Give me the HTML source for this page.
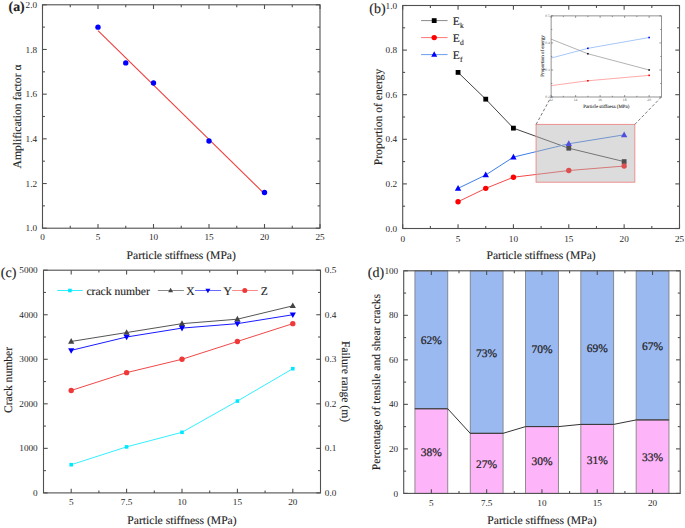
<!DOCTYPE html>
<html><head><meta charset="utf-8"><style>
html,body{margin:0;padding:0;background:#fff;}
body{width:685px;height:528px;overflow:hidden;}
svg{display:block;font-family:"Liberation Serif", serif;}
text{text-rendering:geometricPrecision;stroke:#222;stroke-width:0.12px;}
</style></head><body>
<svg width="685" height="528" viewBox="0 0 685 528">
<rect width="685" height="528" fill="#fff"/>
<rect x="42.50" y="4.80" width="277.50" height="223.40" fill="none" stroke="#505050" stroke-width="1.1"/>
<line x1="42.50" y1="228.20" x2="42.50" y2="224.00" stroke="#505050" stroke-width="1.1" />
<line x1="42.50" y1="4.80" x2="42.50" y2="9.00" stroke="#505050" stroke-width="1.1" />
<line x1="98.00" y1="228.20" x2="98.00" y2="224.00" stroke="#505050" stroke-width="1.1" />
<line x1="98.00" y1="4.80" x2="98.00" y2="9.00" stroke="#505050" stroke-width="1.1" />
<line x1="153.50" y1="228.20" x2="153.50" y2="224.00" stroke="#505050" stroke-width="1.1" />
<line x1="153.50" y1="4.80" x2="153.50" y2="9.00" stroke="#505050" stroke-width="1.1" />
<line x1="209.00" y1="228.20" x2="209.00" y2="224.00" stroke="#505050" stroke-width="1.1" />
<line x1="209.00" y1="4.80" x2="209.00" y2="9.00" stroke="#505050" stroke-width="1.1" />
<line x1="264.50" y1="228.20" x2="264.50" y2="224.00" stroke="#505050" stroke-width="1.1" />
<line x1="264.50" y1="4.80" x2="264.50" y2="9.00" stroke="#505050" stroke-width="1.1" />
<line x1="320.00" y1="228.20" x2="320.00" y2="224.00" stroke="#505050" stroke-width="1.1" />
<line x1="320.00" y1="4.80" x2="320.00" y2="9.00" stroke="#505050" stroke-width="1.1" />
<line x1="70.25" y1="228.20" x2="70.25" y2="225.80" stroke="#505050" stroke-width="1.1" />
<line x1="70.25" y1="4.80" x2="70.25" y2="7.20" stroke="#505050" stroke-width="1.1" />
<line x1="125.75" y1="228.20" x2="125.75" y2="225.80" stroke="#505050" stroke-width="1.1" />
<line x1="125.75" y1="4.80" x2="125.75" y2="7.20" stroke="#505050" stroke-width="1.1" />
<line x1="181.25" y1="228.20" x2="181.25" y2="225.80" stroke="#505050" stroke-width="1.1" />
<line x1="181.25" y1="4.80" x2="181.25" y2="7.20" stroke="#505050" stroke-width="1.1" />
<line x1="236.75" y1="228.20" x2="236.75" y2="225.80" stroke="#505050" stroke-width="1.1" />
<line x1="236.75" y1="4.80" x2="236.75" y2="7.20" stroke="#505050" stroke-width="1.1" />
<line x1="292.25" y1="228.20" x2="292.25" y2="225.80" stroke="#505050" stroke-width="1.1" />
<line x1="292.25" y1="4.80" x2="292.25" y2="7.20" stroke="#505050" stroke-width="1.1" />
<line x1="42.50" y1="228.20" x2="46.70" y2="228.20" stroke="#505050" stroke-width="1.1" />
<line x1="320.00" y1="228.20" x2="315.80" y2="228.20" stroke="#505050" stroke-width="1.1" />
<line x1="42.50" y1="183.52" x2="46.70" y2="183.52" stroke="#505050" stroke-width="1.1" />
<line x1="320.00" y1="183.52" x2="315.80" y2="183.52" stroke="#505050" stroke-width="1.1" />
<line x1="42.50" y1="138.84" x2="46.70" y2="138.84" stroke="#505050" stroke-width="1.1" />
<line x1="320.00" y1="138.84" x2="315.80" y2="138.84" stroke="#505050" stroke-width="1.1" />
<line x1="42.50" y1="94.16" x2="46.70" y2="94.16" stroke="#505050" stroke-width="1.1" />
<line x1="320.00" y1="94.16" x2="315.80" y2="94.16" stroke="#505050" stroke-width="1.1" />
<line x1="42.50" y1="49.48" x2="46.70" y2="49.48" stroke="#505050" stroke-width="1.1" />
<line x1="320.00" y1="49.48" x2="315.80" y2="49.48" stroke="#505050" stroke-width="1.1" />
<line x1="42.50" y1="4.80" x2="46.70" y2="4.80" stroke="#505050" stroke-width="1.1" />
<line x1="320.00" y1="4.80" x2="315.80" y2="4.80" stroke="#505050" stroke-width="1.1" />
<line x1="42.50" y1="205.86" x2="44.90" y2="205.86" stroke="#505050" stroke-width="1.1" />
<line x1="320.00" y1="205.86" x2="317.60" y2="205.86" stroke="#505050" stroke-width="1.1" />
<line x1="42.50" y1="161.18" x2="44.90" y2="161.18" stroke="#505050" stroke-width="1.1" />
<line x1="320.00" y1="161.18" x2="317.60" y2="161.18" stroke="#505050" stroke-width="1.1" />
<line x1="42.50" y1="116.50" x2="44.90" y2="116.50" stroke="#505050" stroke-width="1.1" />
<line x1="320.00" y1="116.50" x2="317.60" y2="116.50" stroke="#505050" stroke-width="1.1" />
<line x1="42.50" y1="71.82" x2="44.90" y2="71.82" stroke="#505050" stroke-width="1.1" />
<line x1="320.00" y1="71.82" x2="317.60" y2="71.82" stroke="#505050" stroke-width="1.1" />
<line x1="42.50" y1="27.14" x2="44.90" y2="27.14" stroke="#505050" stroke-width="1.1" />
<line x1="320.00" y1="27.14" x2="317.60" y2="27.14" stroke="#505050" stroke-width="1.1" />
<text x="42.50" y="239.80" font-size="9.2" text-anchor="middle" fill="#2a2a2a" style="stroke:none">0</text>
<text x="98.00" y="239.80" font-size="9.2" text-anchor="middle" fill="#2a2a2a" style="stroke:none">5</text>
<text x="153.50" y="239.80" font-size="9.2" text-anchor="middle" fill="#2a2a2a" style="stroke:none">10</text>
<text x="209.00" y="239.80" font-size="9.2" text-anchor="middle" fill="#2a2a2a" style="stroke:none">15</text>
<text x="264.50" y="239.80" font-size="9.2" text-anchor="middle" fill="#2a2a2a" style="stroke:none">20</text>
<text x="320.00" y="239.80" font-size="9.2" text-anchor="middle" fill="#2a2a2a" style="stroke:none">25</text>
<text x="37.10" y="231.30" font-size="9.2" text-anchor="end" fill="#2a2a2a" style="stroke:none">1.0</text>
<text x="37.10" y="186.62" font-size="9.2" text-anchor="end" fill="#2a2a2a" style="stroke:none">1.2</text>
<text x="37.10" y="141.94" font-size="9.2" text-anchor="end" fill="#2a2a2a" style="stroke:none">1.4</text>
<text x="37.10" y="97.26" font-size="9.2" text-anchor="end" fill="#2a2a2a" style="stroke:none">1.6</text>
<text x="37.10" y="52.58" font-size="9.2" text-anchor="end" fill="#2a2a2a" style="stroke:none">1.8</text>
<text x="37.10" y="7.90" font-size="9.2" text-anchor="end" fill="#2a2a2a" style="stroke:none">2.0</text>
<line x1="98.00" y1="30.60" x2="264.50" y2="193.80" stroke="#f03c3c" stroke-width="1.1" />
<circle cx="98.00" cy="27.14" r="2.70" fill="#0000ff" />
<circle cx="125.75" cy="62.88" r="2.70" fill="#0000ff" />
<circle cx="153.50" cy="82.99" r="2.70" fill="#0000ff" />
<circle cx="209.00" cy="141.07" r="2.70" fill="#0000ff" />
<circle cx="264.50" cy="192.46" r="2.70" fill="#0000ff" />
<text x="181.25" y="258.60" font-size="11.6" text-anchor="middle" fill="#222" >Particle stiffness (MPa)</text>
<text transform="translate(20.6,116.50) rotate(-90)" font-size="11.6" text-anchor="middle" fill="#222">Amplification factor α</text>
<text x="8.6" y="11.4" font-size="13.8" font-weight="bold" fill="#222">(a)</text>
<rect x="402.70" y="5.50" width="276.80" height="223.00" fill="none" stroke="#505050" stroke-width="1.1"/>
<line x1="402.70" y1="228.50" x2="402.70" y2="224.30" stroke="#505050" stroke-width="1.1" />
<line x1="402.70" y1="5.50" x2="402.70" y2="9.70" stroke="#505050" stroke-width="1.1" />
<line x1="458.06" y1="228.50" x2="458.06" y2="224.30" stroke="#505050" stroke-width="1.1" />
<line x1="458.06" y1="5.50" x2="458.06" y2="9.70" stroke="#505050" stroke-width="1.1" />
<line x1="513.42" y1="228.50" x2="513.42" y2="224.30" stroke="#505050" stroke-width="1.1" />
<line x1="513.42" y1="5.50" x2="513.42" y2="9.70" stroke="#505050" stroke-width="1.1" />
<line x1="568.78" y1="228.50" x2="568.78" y2="224.30" stroke="#505050" stroke-width="1.1" />
<line x1="568.78" y1="5.50" x2="568.78" y2="9.70" stroke="#505050" stroke-width="1.1" />
<line x1="624.14" y1="228.50" x2="624.14" y2="224.30" stroke="#505050" stroke-width="1.1" />
<line x1="624.14" y1="5.50" x2="624.14" y2="9.70" stroke="#505050" stroke-width="1.1" />
<line x1="679.50" y1="228.50" x2="679.50" y2="224.30" stroke="#505050" stroke-width="1.1" />
<line x1="679.50" y1="5.50" x2="679.50" y2="9.70" stroke="#505050" stroke-width="1.1" />
<line x1="430.38" y1="228.50" x2="430.38" y2="226.10" stroke="#505050" stroke-width="1.1" />
<line x1="430.38" y1="5.50" x2="430.38" y2="7.90" stroke="#505050" stroke-width="1.1" />
<line x1="485.74" y1="228.50" x2="485.74" y2="226.10" stroke="#505050" stroke-width="1.1" />
<line x1="485.74" y1="5.50" x2="485.74" y2="7.90" stroke="#505050" stroke-width="1.1" />
<line x1="541.10" y1="228.50" x2="541.10" y2="226.10" stroke="#505050" stroke-width="1.1" />
<line x1="541.10" y1="5.50" x2="541.10" y2="7.90" stroke="#505050" stroke-width="1.1" />
<line x1="596.46" y1="228.50" x2="596.46" y2="226.10" stroke="#505050" stroke-width="1.1" />
<line x1="596.46" y1="5.50" x2="596.46" y2="7.90" stroke="#505050" stroke-width="1.1" />
<line x1="651.82" y1="228.50" x2="651.82" y2="226.10" stroke="#505050" stroke-width="1.1" />
<line x1="651.82" y1="5.50" x2="651.82" y2="7.90" stroke="#505050" stroke-width="1.1" />
<line x1="402.70" y1="228.50" x2="406.90" y2="228.50" stroke="#505050" stroke-width="1.1" />
<line x1="679.50" y1="228.50" x2="675.30" y2="228.50" stroke="#505050" stroke-width="1.1" />
<line x1="402.70" y1="183.90" x2="406.90" y2="183.90" stroke="#505050" stroke-width="1.1" />
<line x1="679.50" y1="183.90" x2="675.30" y2="183.90" stroke="#505050" stroke-width="1.1" />
<line x1="402.70" y1="139.30" x2="406.90" y2="139.30" stroke="#505050" stroke-width="1.1" />
<line x1="679.50" y1="139.30" x2="675.30" y2="139.30" stroke="#505050" stroke-width="1.1" />
<line x1="402.70" y1="94.70" x2="406.90" y2="94.70" stroke="#505050" stroke-width="1.1" />
<line x1="679.50" y1="94.70" x2="675.30" y2="94.70" stroke="#505050" stroke-width="1.1" />
<line x1="402.70" y1="50.10" x2="406.90" y2="50.10" stroke="#505050" stroke-width="1.1" />
<line x1="679.50" y1="50.10" x2="675.30" y2="50.10" stroke="#505050" stroke-width="1.1" />
<line x1="402.70" y1="5.50" x2="406.90" y2="5.50" stroke="#505050" stroke-width="1.1" />
<line x1="679.50" y1="5.50" x2="675.30" y2="5.50" stroke="#505050" stroke-width="1.1" />
<line x1="402.70" y1="206.20" x2="405.10" y2="206.20" stroke="#505050" stroke-width="1.1" />
<line x1="679.50" y1="206.20" x2="677.10" y2="206.20" stroke="#505050" stroke-width="1.1" />
<line x1="402.70" y1="161.60" x2="405.10" y2="161.60" stroke="#505050" stroke-width="1.1" />
<line x1="679.50" y1="161.60" x2="677.10" y2="161.60" stroke="#505050" stroke-width="1.1" />
<line x1="402.70" y1="117.00" x2="405.10" y2="117.00" stroke="#505050" stroke-width="1.1" />
<line x1="679.50" y1="117.00" x2="677.10" y2="117.00" stroke="#505050" stroke-width="1.1" />
<line x1="402.70" y1="72.40" x2="405.10" y2="72.40" stroke="#505050" stroke-width="1.1" />
<line x1="679.50" y1="72.40" x2="677.10" y2="72.40" stroke="#505050" stroke-width="1.1" />
<line x1="402.70" y1="27.80" x2="405.10" y2="27.80" stroke="#505050" stroke-width="1.1" />
<line x1="679.50" y1="27.80" x2="677.10" y2="27.80" stroke="#505050" stroke-width="1.1" />
<text x="402.70" y="241.50" font-size="9.2" text-anchor="middle" fill="#2a2a2a" style="stroke:none">0</text>
<text x="458.06" y="241.50" font-size="9.2" text-anchor="middle" fill="#2a2a2a" style="stroke:none">5</text>
<text x="513.42" y="241.50" font-size="9.2" text-anchor="middle" fill="#2a2a2a" style="stroke:none">10</text>
<text x="568.78" y="241.50" font-size="9.2" text-anchor="middle" fill="#2a2a2a" style="stroke:none">15</text>
<text x="624.14" y="241.50" font-size="9.2" text-anchor="middle" fill="#2a2a2a" style="stroke:none">20</text>
<text x="679.50" y="241.50" font-size="9.2" text-anchor="middle" fill="#2a2a2a" style="stroke:none">25</text>
<text x="397.10" y="231.60" font-size="9.2" text-anchor="end" fill="#2a2a2a" style="stroke:none">0.0</text>
<text x="397.10" y="187.00" font-size="9.2" text-anchor="end" fill="#2a2a2a" style="stroke:none">0.2</text>
<text x="397.10" y="142.40" font-size="9.2" text-anchor="end" fill="#2a2a2a" style="stroke:none">0.4</text>
<text x="397.10" y="97.80" font-size="9.2" text-anchor="end" fill="#2a2a2a" style="stroke:none">0.6</text>
<text x="397.10" y="53.20" font-size="9.2" text-anchor="end" fill="#2a2a2a" style="stroke:none">0.8</text>
<text x="397.10" y="8.60" font-size="9.2" text-anchor="end" fill="#2a2a2a" style="stroke:none">1.0</text>
<polyline points="458.06,72.40 485.74,99.16 513.42,128.15 568.78,148.22 624.14,161.60" fill="none" stroke="#444" stroke-width="1.0" />
<polyline points="458.06,201.74 485.74,188.36 513.42,177.21 568.78,170.52 624.14,166.06" fill="none" stroke="#f34a4a" stroke-width="1.0" />
<polyline points="458.06,188.36 485.74,174.98 513.42,157.14 568.78,143.76 624.14,134.84" fill="none" stroke="#3c7fe6" stroke-width="1.0" />
<rect x="455.66" y="70.00" width="4.80" height="4.80" fill="#000" />
<rect x="483.34" y="96.76" width="4.80" height="4.80" fill="#000" />
<rect x="511.02" y="125.75" width="4.80" height="4.80" fill="#000" />
<rect x="566.38" y="145.82" width="4.80" height="4.80" fill="#000" />
<rect x="621.74" y="159.20" width="4.80" height="4.80" fill="#000" />
<circle cx="458.06" cy="201.74" r="2.70" fill="#ff0000" />
<circle cx="485.74" cy="188.36" r="2.70" fill="#ff0000" />
<circle cx="513.42" cy="177.21" r="2.70" fill="#ff0000" />
<circle cx="568.78" cy="170.52" r="2.70" fill="#ff0000" />
<circle cx="624.14" cy="166.06" r="2.70" fill="#ff0000" />
<polygon points="458.06,184.90 454.86,190.66 461.26,190.66" fill="#0000ff" />
<polygon points="485.74,171.52 482.54,177.28 488.94,177.28" fill="#0000ff" />
<polygon points="513.42,153.68 510.22,159.44 516.62,159.44" fill="#0000ff" />
<polygon points="568.78,140.30 565.58,146.06 571.98,146.06" fill="#0000ff" />
<polygon points="624.14,131.38 620.94,137.14 627.34,137.14" fill="#0000ff" />
<rect x="536.10" y="124.40" width="98.70" height="57.80" fill="rgb(178,178,178)" fill-opacity="0.45" stroke="#ec9090" stroke-width="1"/>
<line x1="536.10" y1="124.40" x2="551.10" y2="97.00" stroke="#555" stroke-width="0.8" stroke-dasharray="3,2"/>
<line x1="634.80" y1="124.40" x2="661.40" y2="97.00" stroke="#555" stroke-width="0.8" stroke-dasharray="3,2"/>
<rect x="551.10" y="15.90" width="110.30" height="81.10" fill="#fff" stroke="#666" stroke-width="0.7"/>
<defs><clipPath id="ic"><rect x="551.10" y="15.90" width="110.30" height="81.10"/></clipPath></defs>
<g clip-path="url(#ic)">
<polyline points="465.31,-38.17 495.95,-5.73 526.59,29.42 587.87,53.75 649.14,69.97" fill="none" stroke="#666" stroke-width="0.5" />
<polyline points="465.31,118.63 495.95,102.41 526.59,88.89 587.87,80.78 649.14,75.37" fill="none" stroke="#f55" stroke-width="0.5" />
<polyline points="465.31,102.41 495.95,86.19 526.59,64.56 587.87,48.34 649.14,37.53" fill="none" stroke="#4a90ee" stroke-width="0.5" />
<rect x="464.51" y="-38.97" width="1.60" height="1.60" fill="#111" />
<rect x="495.15" y="-6.53" width="1.60" height="1.60" fill="#111" />
<rect x="525.79" y="28.62" width="1.60" height="1.60" fill="#111" />
<rect x="587.07" y="52.95" width="1.60" height="1.60" fill="#111" />
<rect x="648.34" y="69.17" width="1.60" height="1.60" fill="#111" />
<rect x="464.51" y="117.83" width="1.60" height="1.60" fill="#f00" />
<rect x="495.15" y="101.61" width="1.60" height="1.60" fill="#f00" />
<rect x="525.79" y="88.09" width="1.60" height="1.60" fill="#f00" />
<rect x="587.07" y="79.98" width="1.60" height="1.60" fill="#f00" />
<rect x="648.34" y="74.57" width="1.60" height="1.60" fill="#f00" />
<rect x="464.51" y="101.61" width="1.60" height="1.60" fill="#00f" />
<rect x="495.15" y="85.39" width="1.60" height="1.60" fill="#00f" />
<rect x="525.79" y="63.76" width="1.60" height="1.60" fill="#00f" />
<rect x="587.07" y="47.54" width="1.60" height="1.60" fill="#00f" />
<rect x="648.34" y="36.73" width="1.60" height="1.60" fill="#00f" />
</g>
<line x1="551.10" y1="97.00" x2="551.10" y2="95.00" stroke="#555" stroke-width="0.6" />
<line x1="551.10" y1="15.90" x2="551.10" y2="17.90" stroke="#555" stroke-width="0.6" />
<text x="551.10" y="101.40" font-size="3.6" text-anchor="middle" fill="#444" style="stroke:none">12</text>
<line x1="575.61" y1="97.00" x2="575.61" y2="95.00" stroke="#555" stroke-width="0.6" />
<line x1="575.61" y1="15.90" x2="575.61" y2="17.90" stroke="#555" stroke-width="0.6" />
<text x="575.61" y="101.40" font-size="3.6" text-anchor="middle" fill="#444" style="stroke:none">14</text>
<line x1="600.12" y1="97.00" x2="600.12" y2="95.00" stroke="#555" stroke-width="0.6" />
<line x1="600.12" y1="15.90" x2="600.12" y2="17.90" stroke="#555" stroke-width="0.6" />
<text x="600.12" y="101.40" font-size="3.6" text-anchor="middle" fill="#444" style="stroke:none">16</text>
<line x1="624.63" y1="97.00" x2="624.63" y2="95.00" stroke="#555" stroke-width="0.6" />
<line x1="624.63" y1="15.90" x2="624.63" y2="17.90" stroke="#555" stroke-width="0.6" />
<text x="624.63" y="101.40" font-size="3.6" text-anchor="middle" fill="#444" style="stroke:none">18</text>
<line x1="649.14" y1="97.00" x2="649.14" y2="95.00" stroke="#555" stroke-width="0.6" />
<line x1="649.14" y1="15.90" x2="649.14" y2="17.90" stroke="#555" stroke-width="0.6" />
<text x="649.14" y="101.40" font-size="3.6" text-anchor="middle" fill="#444" style="stroke:none">20</text>
<line x1="563.36" y1="97.00" x2="563.36" y2="95.80" stroke="#555" stroke-width="0.6" />
<line x1="563.36" y1="15.90" x2="563.36" y2="17.10" stroke="#555" stroke-width="0.6" />
<line x1="587.87" y1="97.00" x2="587.87" y2="95.80" stroke="#555" stroke-width="0.6" />
<line x1="587.87" y1="15.90" x2="587.87" y2="17.10" stroke="#555" stroke-width="0.6" />
<line x1="612.38" y1="97.00" x2="612.38" y2="95.80" stroke="#555" stroke-width="0.6" />
<line x1="612.38" y1="15.90" x2="612.38" y2="17.10" stroke="#555" stroke-width="0.6" />
<line x1="636.89" y1="97.00" x2="636.89" y2="95.80" stroke="#555" stroke-width="0.6" />
<line x1="636.89" y1="15.90" x2="636.89" y2="17.10" stroke="#555" stroke-width="0.6" />
<line x1="551.10" y1="97.00" x2="553.10" y2="97.00" stroke="#555" stroke-width="0.6" />
<line x1="661.40" y1="97.00" x2="659.40" y2="97.00" stroke="#555" stroke-width="0.6" />
<text x="549.70" y="98.20" font-size="3.6" text-anchor="end" fill="#444" style="stroke:none">0.2</text>
<line x1="551.10" y1="69.97" x2="553.10" y2="69.97" stroke="#555" stroke-width="0.6" />
<line x1="661.40" y1="69.97" x2="659.40" y2="69.97" stroke="#555" stroke-width="0.6" />
<text x="549.70" y="71.17" font-size="3.6" text-anchor="end" fill="#444" style="stroke:none">0.3</text>
<line x1="551.10" y1="42.93" x2="553.10" y2="42.93" stroke="#555" stroke-width="0.6" />
<line x1="661.40" y1="42.93" x2="659.40" y2="42.93" stroke="#555" stroke-width="0.6" />
<text x="549.70" y="44.13" font-size="3.6" text-anchor="end" fill="#444" style="stroke:none">0.4</text>
<line x1="551.10" y1="15.90" x2="553.10" y2="15.90" stroke="#555" stroke-width="0.6" />
<line x1="661.40" y1="15.90" x2="659.40" y2="15.90" stroke="#555" stroke-width="0.6" />
<text x="549.70" y="17.10" font-size="3.6" text-anchor="end" fill="#444" style="stroke:none">0.5</text>
<line x1="551.10" y1="83.48" x2="552.30" y2="83.48" stroke="#555" stroke-width="0.6" />
<line x1="661.40" y1="83.48" x2="660.20" y2="83.48" stroke="#555" stroke-width="0.6" />
<line x1="551.10" y1="56.45" x2="552.30" y2="56.45" stroke="#555" stroke-width="0.6" />
<line x1="661.40" y1="56.45" x2="660.20" y2="56.45" stroke="#555" stroke-width="0.6" />
<line x1="551.10" y1="29.42" x2="552.30" y2="29.42" stroke="#555" stroke-width="0.6" />
<line x1="661.40" y1="29.42" x2="660.20" y2="29.42" stroke="#555" stroke-width="0.6" />
<text x="606.25" y="107.50" font-size="4.9" text-anchor="middle" fill="#222" style="stroke-width:0.08px">Particle stiffness (MPa)</text>
<text transform="translate(543.80,55.95) rotate(-90)" font-size="5.0" text-anchor="middle" fill="#222" style="stroke-width:0.08px">Proportion of energy</text>
<line x1="421.10" y1="20.60" x2="447.60" y2="20.60" stroke="#8a8a8a" stroke-width="1.0" />
<rect x="431.80" y="18.20" width="4.80" height="4.80" fill="#000" />
<text x="452.8" y="24.90" font-size="11.6" fill="#222">E<tspan font-size="7.5" dy="2.6">k</tspan></text>
<line x1="421.10" y1="37.60" x2="447.60" y2="37.60" stroke="#f77" stroke-width="1.0" />
<circle cx="434.20" cy="37.60" r="2.70" fill="#ff0000" />
<text x="452.8" y="41.90" font-size="11.6" fill="#222">E<tspan font-size="7.5" dy="2.6">d</tspan></text>
<line x1="421.10" y1="54.60" x2="447.60" y2="54.60" stroke="#6a9ef0" stroke-width="1.0" />
<polygon points="434.20,51.36 431.20,56.76 437.20,56.76" fill="#0000ff" />
<text x="452.8" y="58.90" font-size="11.6" fill="#222">E<tspan font-size="7.5" dy="2.6">f</tspan></text>
<text x="541.10" y="259.40" font-size="11.6" text-anchor="middle" fill="#222" >Particle stiffness (MPa)</text>
<text transform="translate(381.5,117.00) rotate(-90)" font-size="11.6" text-anchor="middle" fill="#222">Proportion of energy</text>
<text x="369.3" y="12.9" font-size="14" fill="#222">(b)</text>
<rect x="43.50" y="270.20" width="277.00" height="222.70" fill="none" stroke="#505050" stroke-width="1.1"/>
<line x1="71.20" y1="492.90" x2="71.20" y2="488.70" stroke="#505050" stroke-width="1.1" />
<line x1="71.20" y1="270.20" x2="71.20" y2="274.40" stroke="#505050" stroke-width="1.1" />
<line x1="126.60" y1="492.90" x2="126.60" y2="488.70" stroke="#505050" stroke-width="1.1" />
<line x1="126.60" y1="270.20" x2="126.60" y2="274.40" stroke="#505050" stroke-width="1.1" />
<line x1="182.00" y1="492.90" x2="182.00" y2="488.70" stroke="#505050" stroke-width="1.1" />
<line x1="182.00" y1="270.20" x2="182.00" y2="274.40" stroke="#505050" stroke-width="1.1" />
<line x1="237.40" y1="492.90" x2="237.40" y2="488.70" stroke="#505050" stroke-width="1.1" />
<line x1="237.40" y1="270.20" x2="237.40" y2="274.40" stroke="#505050" stroke-width="1.1" />
<line x1="292.80" y1="492.90" x2="292.80" y2="488.70" stroke="#505050" stroke-width="1.1" />
<line x1="292.80" y1="270.20" x2="292.80" y2="274.40" stroke="#505050" stroke-width="1.1" />
<line x1="98.90" y1="492.90" x2="98.90" y2="490.50" stroke="#505050" stroke-width="1.1" />
<line x1="98.90" y1="270.20" x2="98.90" y2="272.60" stroke="#505050" stroke-width="1.1" />
<line x1="154.30" y1="492.90" x2="154.30" y2="490.50" stroke="#505050" stroke-width="1.1" />
<line x1="154.30" y1="270.20" x2="154.30" y2="272.60" stroke="#505050" stroke-width="1.1" />
<line x1="209.70" y1="492.90" x2="209.70" y2="490.50" stroke="#505050" stroke-width="1.1" />
<line x1="209.70" y1="270.20" x2="209.70" y2="272.60" stroke="#505050" stroke-width="1.1" />
<line x1="265.10" y1="492.90" x2="265.10" y2="490.50" stroke="#505050" stroke-width="1.1" />
<line x1="265.10" y1="270.20" x2="265.10" y2="272.60" stroke="#505050" stroke-width="1.1" />
<line x1="43.50" y1="492.90" x2="47.70" y2="492.90" stroke="#505050" stroke-width="1.1" />
<line x1="320.50" y1="492.90" x2="316.30" y2="492.90" stroke="#505050" stroke-width="1.1" />
<line x1="43.50" y1="448.36" x2="47.70" y2="448.36" stroke="#505050" stroke-width="1.1" />
<line x1="320.50" y1="448.36" x2="316.30" y2="448.36" stroke="#505050" stroke-width="1.1" />
<line x1="43.50" y1="403.82" x2="47.70" y2="403.82" stroke="#505050" stroke-width="1.1" />
<line x1="320.50" y1="403.82" x2="316.30" y2="403.82" stroke="#505050" stroke-width="1.1" />
<line x1="43.50" y1="359.28" x2="47.70" y2="359.28" stroke="#505050" stroke-width="1.1" />
<line x1="320.50" y1="359.28" x2="316.30" y2="359.28" stroke="#505050" stroke-width="1.1" />
<line x1="43.50" y1="314.74" x2="47.70" y2="314.74" stroke="#505050" stroke-width="1.1" />
<line x1="320.50" y1="314.74" x2="316.30" y2="314.74" stroke="#505050" stroke-width="1.1" />
<line x1="43.50" y1="270.20" x2="47.70" y2="270.20" stroke="#505050" stroke-width="1.1" />
<line x1="320.50" y1="270.20" x2="316.30" y2="270.20" stroke="#505050" stroke-width="1.1" />
<line x1="43.50" y1="470.63" x2="45.90" y2="470.63" stroke="#505050" stroke-width="1.1" />
<line x1="320.50" y1="470.63" x2="318.10" y2="470.63" stroke="#505050" stroke-width="1.1" />
<line x1="43.50" y1="426.09" x2="45.90" y2="426.09" stroke="#505050" stroke-width="1.1" />
<line x1="320.50" y1="426.09" x2="318.10" y2="426.09" stroke="#505050" stroke-width="1.1" />
<line x1="43.50" y1="381.55" x2="45.90" y2="381.55" stroke="#505050" stroke-width="1.1" />
<line x1="320.50" y1="381.55" x2="318.10" y2="381.55" stroke="#505050" stroke-width="1.1" />
<line x1="43.50" y1="337.01" x2="45.90" y2="337.01" stroke="#505050" stroke-width="1.1" />
<line x1="320.50" y1="337.01" x2="318.10" y2="337.01" stroke="#505050" stroke-width="1.1" />
<line x1="43.50" y1="292.47" x2="45.90" y2="292.47" stroke="#505050" stroke-width="1.1" />
<line x1="320.50" y1="292.47" x2="318.10" y2="292.47" stroke="#505050" stroke-width="1.1" />
<text x="71.20" y="504.80" font-size="9.2" text-anchor="middle" fill="#2a2a2a" style="stroke:none">5</text>
<text x="126.60" y="504.80" font-size="9.2" text-anchor="middle" fill="#2a2a2a" style="stroke:none">7.5</text>
<text x="182.00" y="504.80" font-size="9.2" text-anchor="middle" fill="#2a2a2a" style="stroke:none">10</text>
<text x="237.40" y="504.80" font-size="9.2" text-anchor="middle" fill="#2a2a2a" style="stroke:none">15</text>
<text x="292.80" y="504.80" font-size="9.2" text-anchor="middle" fill="#2a2a2a" style="stroke:none">20</text>
<text x="37.70" y="496.00" font-size="9.2" text-anchor="end" fill="#2a2a2a" style="stroke:none">0</text>
<text x="37.70" y="451.46" font-size="9.2" text-anchor="end" fill="#2a2a2a" style="stroke:none">1000</text>
<text x="37.70" y="406.92" font-size="9.2" text-anchor="end" fill="#2a2a2a" style="stroke:none">2000</text>
<text x="37.70" y="362.38" font-size="9.2" text-anchor="end" fill="#2a2a2a" style="stroke:none">3000</text>
<text x="37.70" y="317.84" font-size="9.2" text-anchor="end" fill="#2a2a2a" style="stroke:none">4000</text>
<text x="37.70" y="273.30" font-size="9.2" text-anchor="end" fill="#2a2a2a" style="stroke:none">5000</text>
<text x="324.80" y="496.00" font-size="9.2" text-anchor="start" fill="#2a2a2a" style="stroke:none">0.0</text>
<text x="324.80" y="451.46" font-size="9.2" text-anchor="start" fill="#2a2a2a" style="stroke:none">0.1</text>
<text x="324.80" y="406.92" font-size="9.2" text-anchor="start" fill="#2a2a2a" style="stroke:none">0.2</text>
<text x="324.80" y="362.38" font-size="9.2" text-anchor="start" fill="#2a2a2a" style="stroke:none">0.3</text>
<text x="324.80" y="317.84" font-size="9.2" text-anchor="start" fill="#2a2a2a" style="stroke:none">0.4</text>
<text x="324.80" y="273.30" font-size="9.2" text-anchor="start" fill="#2a2a2a" style="stroke:none">0.5</text>
<polyline points="71.20,464.71 126.60,446.89 182.00,432.28 237.40,401.06 292.80,368.68" fill="none" stroke="#33f0ff" stroke-width="1.0" />
<polyline points="71.20,341.46 126.60,332.56 182.00,323.65 237.40,319.19 292.80,305.83" fill="none" stroke="#555" stroke-width="1.0" />
<polyline points="71.20,350.37 126.60,337.01 182.00,328.10 237.40,323.65 292.80,314.74" fill="none" stroke="#1a1aff" stroke-width="1.0" />
<polyline points="71.20,390.46 126.60,372.64 182.00,359.28 237.40,341.46 292.80,323.65" fill="none" stroke="#f04848" stroke-width="1.0" />
<rect x="69.40" y="462.91" width="3.60" height="3.60" fill="#00e8ff" />
<rect x="124.80" y="445.09" width="3.60" height="3.60" fill="#00e8ff" />
<rect x="180.20" y="430.48" width="3.60" height="3.60" fill="#00e8ff" />
<rect x="235.60" y="399.26" width="3.60" height="3.60" fill="#00e8ff" />
<rect x="291.00" y="366.88" width="3.60" height="3.60" fill="#00e8ff" />
<polygon points="71.20,338.12 68.10,343.70 74.30,343.70" fill="#444" />
<polygon points="126.60,329.21 123.50,334.79 129.70,334.79" fill="#444" />
<polygon points="182.00,320.30 178.90,325.88 185.10,325.88" fill="#444" />
<polygon points="237.40,315.85 234.30,321.43 240.50,321.43" fill="#444" />
<polygon points="292.80,302.48 289.70,308.06 295.90,308.06" fill="#444" />
<polygon points="71.20,353.72 68.10,348.14 74.30,348.14" fill="#0000ff" />
<polygon points="126.60,340.36 123.50,334.78 129.70,334.78" fill="#0000ff" />
<polygon points="182.00,331.45 178.90,325.87 185.10,325.87" fill="#0000ff" />
<polygon points="237.40,327.00 234.30,321.42 240.50,321.42" fill="#0000ff" />
<polygon points="292.80,318.09 289.70,312.51 295.90,312.51" fill="#0000ff" />
<circle cx="71.20" cy="390.46" r="2.70" fill="#f03838" />
<circle cx="126.60" cy="372.64" r="2.70" fill="#f03838" />
<circle cx="182.00" cy="359.28" r="2.70" fill="#f03838" />
<circle cx="237.40" cy="341.46" r="2.70" fill="#f03838" />
<circle cx="292.80" cy="323.65" r="2.70" fill="#f03838" />
<line x1="57.20" y1="290.50" x2="82.70" y2="290.50" stroke="#33f0ff" stroke-width="1.0" />
<rect x="68.10" y="288.70" width="3.60" height="3.60" fill="#00e8ff" />
<text x="86.40" y="294.70" font-size="11.6" text-anchor="start" fill="#222" >crack number</text>
<line x1="157.80" y1="290.50" x2="183.80" y2="290.50" stroke="#8a8a8a" stroke-width="1.0" />
<polygon points="170.60,287.80 168.10,292.30 173.10,292.30" fill="#444" />
<text x="186.30" y="294.80" font-size="11.6" text-anchor="start" fill="#222" >X</text>
<line x1="195.00" y1="290.50" x2="221.10" y2="290.50" stroke="#6a6aff" stroke-width="1.0" />
<polygon points="207.90,293.20 205.40,288.70 210.40,288.70" fill="#0000ff" />
<text x="223.60" y="294.80" font-size="11.6" text-anchor="start" fill="#222" >Y</text>
<line x1="232.20" y1="290.50" x2="257.90" y2="290.50" stroke="#f78a8a" stroke-width="1.0" />
<circle cx="244.80" cy="290.50" r="2.50" fill="#f03838" />
<text x="260.80" y="294.80" font-size="11.6" text-anchor="start" fill="#222" >Z</text>
<text x="182.00" y="523.60" font-size="11.6" text-anchor="middle" fill="#222" >Particle stiffness (MPa)</text>
<text transform="translate(12.3,380.00) rotate(-90)" font-size="11.6" text-anchor="middle" fill="#222">Crack number</text>
<text transform="translate(341.6,381.55) rotate(90)" font-size="11.6" text-anchor="middle" fill="#222">Failure range (m)</text>
<text x="0.8" y="277.0" font-size="14" fill="#222">(c)</text>
<rect x="414.93" y="270.80" width="32.85" height="138.01" fill="#9bb9f1" stroke="#777" stroke-width="0.8"/>
<rect x="414.93" y="408.81" width="32.85" height="84.59" fill="#fdb4f9" stroke="#777" stroke-width="0.8"/>
<rect x="470.23" y="270.80" width="32.85" height="162.50" fill="#9bb9f1" stroke="#777" stroke-width="0.8"/>
<rect x="470.23" y="433.30" width="32.85" height="60.10" fill="#fdb4f9" stroke="#777" stroke-width="0.8"/>
<rect x="525.53" y="270.80" width="32.85" height="155.82" fill="#9bb9f1" stroke="#777" stroke-width="0.8"/>
<rect x="525.53" y="426.62" width="32.85" height="66.78" fill="#fdb4f9" stroke="#777" stroke-width="0.8"/>
<rect x="580.83" y="270.80" width="32.85" height="153.59" fill="#9bb9f1" stroke="#777" stroke-width="0.8"/>
<rect x="580.83" y="424.39" width="32.85" height="69.01" fill="#fdb4f9" stroke="#777" stroke-width="0.8"/>
<rect x="636.13" y="270.80" width="32.85" height="149.14" fill="#9bb9f1" stroke="#777" stroke-width="0.8"/>
<rect x="636.13" y="419.94" width="32.85" height="73.46" fill="#fdb4f9" stroke="#777" stroke-width="0.8"/>
<polyline points="414.93,408.81 447.77,408.81 470.23,433.30 503.07,433.30 525.53,426.62 558.37,426.62 580.83,424.39 613.67,424.39 636.13,419.94 668.97,419.94" fill="none" stroke="#333" stroke-width="1.0" />
<rect x="403.70" y="270.80" width="276.50" height="222.60" fill="none" stroke="#505050" stroke-width="1.1"/>
<line x1="431.35" y1="493.40" x2="431.35" y2="489.20" stroke="#505050" stroke-width="1.1" />
<line x1="431.35" y1="270.80" x2="431.35" y2="275.00" stroke="#505050" stroke-width="1.1" />
<line x1="486.65" y1="493.40" x2="486.65" y2="489.20" stroke="#505050" stroke-width="1.1" />
<line x1="486.65" y1="270.80" x2="486.65" y2="275.00" stroke="#505050" stroke-width="1.1" />
<line x1="541.95" y1="493.40" x2="541.95" y2="489.20" stroke="#505050" stroke-width="1.1" />
<line x1="541.95" y1="270.80" x2="541.95" y2="275.00" stroke="#505050" stroke-width="1.1" />
<line x1="597.25" y1="493.40" x2="597.25" y2="489.20" stroke="#505050" stroke-width="1.1" />
<line x1="597.25" y1="270.80" x2="597.25" y2="275.00" stroke="#505050" stroke-width="1.1" />
<line x1="652.55" y1="493.40" x2="652.55" y2="489.20" stroke="#505050" stroke-width="1.1" />
<line x1="652.55" y1="270.80" x2="652.55" y2="275.00" stroke="#505050" stroke-width="1.1" />
<line x1="459.00" y1="493.40" x2="459.00" y2="491.00" stroke="#505050" stroke-width="1.1" />
<line x1="459.00" y1="270.80" x2="459.00" y2="273.20" stroke="#505050" stroke-width="1.1" />
<line x1="514.30" y1="493.40" x2="514.30" y2="491.00" stroke="#505050" stroke-width="1.1" />
<line x1="514.30" y1="270.80" x2="514.30" y2="273.20" stroke="#505050" stroke-width="1.1" />
<line x1="569.60" y1="493.40" x2="569.60" y2="491.00" stroke="#505050" stroke-width="1.1" />
<line x1="569.60" y1="270.80" x2="569.60" y2="273.20" stroke="#505050" stroke-width="1.1" />
<line x1="624.90" y1="493.40" x2="624.90" y2="491.00" stroke="#505050" stroke-width="1.1" />
<line x1="624.90" y1="270.80" x2="624.90" y2="273.20" stroke="#505050" stroke-width="1.1" />
<line x1="403.70" y1="493.40" x2="407.90" y2="493.40" stroke="#505050" stroke-width="1.1" />
<line x1="680.20" y1="493.40" x2="676.00" y2="493.40" stroke="#505050" stroke-width="1.1" />
<line x1="403.70" y1="448.88" x2="407.90" y2="448.88" stroke="#505050" stroke-width="1.1" />
<line x1="680.20" y1="448.88" x2="676.00" y2="448.88" stroke="#505050" stroke-width="1.1" />
<line x1="403.70" y1="404.36" x2="407.90" y2="404.36" stroke="#505050" stroke-width="1.1" />
<line x1="680.20" y1="404.36" x2="676.00" y2="404.36" stroke="#505050" stroke-width="1.1" />
<line x1="403.70" y1="359.84" x2="407.90" y2="359.84" stroke="#505050" stroke-width="1.1" />
<line x1="680.20" y1="359.84" x2="676.00" y2="359.84" stroke="#505050" stroke-width="1.1" />
<line x1="403.70" y1="315.32" x2="407.90" y2="315.32" stroke="#505050" stroke-width="1.1" />
<line x1="680.20" y1="315.32" x2="676.00" y2="315.32" stroke="#505050" stroke-width="1.1" />
<line x1="403.70" y1="270.80" x2="407.90" y2="270.80" stroke="#505050" stroke-width="1.1" />
<line x1="680.20" y1="270.80" x2="676.00" y2="270.80" stroke="#505050" stroke-width="1.1" />
<line x1="403.70" y1="471.14" x2="406.10" y2="471.14" stroke="#505050" stroke-width="1.1" />
<line x1="680.20" y1="471.14" x2="677.80" y2="471.14" stroke="#505050" stroke-width="1.1" />
<line x1="403.70" y1="426.62" x2="406.10" y2="426.62" stroke="#505050" stroke-width="1.1" />
<line x1="680.20" y1="426.62" x2="677.80" y2="426.62" stroke="#505050" stroke-width="1.1" />
<line x1="403.70" y1="382.10" x2="406.10" y2="382.10" stroke="#505050" stroke-width="1.1" />
<line x1="680.20" y1="382.10" x2="677.80" y2="382.10" stroke="#505050" stroke-width="1.1" />
<line x1="403.70" y1="337.58" x2="406.10" y2="337.58" stroke="#505050" stroke-width="1.1" />
<line x1="680.20" y1="337.58" x2="677.80" y2="337.58" stroke="#505050" stroke-width="1.1" />
<line x1="403.70" y1="293.06" x2="406.10" y2="293.06" stroke="#505050" stroke-width="1.1" />
<line x1="680.20" y1="293.06" x2="677.80" y2="293.06" stroke="#505050" stroke-width="1.1" />
<text x="431.35" y="505.50" font-size="9.2" text-anchor="middle" fill="#2a2a2a" style="stroke:none">5</text>
<text x="486.65" y="505.50" font-size="9.2" text-anchor="middle" fill="#2a2a2a" style="stroke:none">7.5</text>
<text x="541.95" y="505.50" font-size="9.2" text-anchor="middle" fill="#2a2a2a" style="stroke:none">10</text>
<text x="597.25" y="505.50" font-size="9.2" text-anchor="middle" fill="#2a2a2a" style="stroke:none">15</text>
<text x="652.55" y="505.50" font-size="9.2" text-anchor="middle" fill="#2a2a2a" style="stroke:none">20</text>
<text x="398.20" y="496.50" font-size="9.2" text-anchor="end" fill="#2a2a2a" style="stroke:none">0</text>
<text x="398.20" y="451.98" font-size="9.2" text-anchor="end" fill="#2a2a2a" style="stroke:none">20</text>
<text x="398.20" y="407.46" font-size="9.2" text-anchor="end" fill="#2a2a2a" style="stroke:none">40</text>
<text x="398.20" y="362.94" font-size="9.2" text-anchor="end" fill="#2a2a2a" style="stroke:none">60</text>
<text x="398.20" y="318.42" font-size="9.2" text-anchor="end" fill="#2a2a2a" style="stroke:none">80</text>
<text x="398.20" y="273.90" font-size="9.2" text-anchor="end" fill="#2a2a2a" style="stroke:none">100</text>
<text x="431.35" y="344.41" font-size="11.5" text-anchor="middle" fill="#222" style="stroke-width:0.22px">62%</text>
<text x="431.35" y="455.91" font-size="11.5" text-anchor="middle" fill="#222" style="stroke-width:0.22px">38%</text>
<text x="486.65" y="356.65" font-size="11.5" text-anchor="middle" fill="#222" style="stroke-width:0.22px">73%</text>
<text x="486.65" y="468.15" font-size="11.5" text-anchor="middle" fill="#222" style="stroke-width:0.22px">27%</text>
<text x="541.95" y="353.31" font-size="11.5" text-anchor="middle" fill="#222" style="stroke-width:0.22px">70%</text>
<text x="541.95" y="464.81" font-size="11.5" text-anchor="middle" fill="#222" style="stroke-width:0.22px">30%</text>
<text x="597.25" y="352.20" font-size="11.5" text-anchor="middle" fill="#222" style="stroke-width:0.22px">69%</text>
<text x="597.25" y="463.70" font-size="11.5" text-anchor="middle" fill="#222" style="stroke-width:0.22px">31%</text>
<text x="652.55" y="349.97" font-size="11.5" text-anchor="middle" fill="#222" style="stroke-width:0.22px">67%</text>
<text x="652.55" y="461.47" font-size="11.5" text-anchor="middle" fill="#222" style="stroke-width:0.22px">33%</text>
<text x="541.95" y="524.00" font-size="11.6" text-anchor="middle" fill="#222" >Particle stiffness (MPa)</text>
<text transform="translate(380.0,382.10) rotate(-90)" font-size="11.6" text-anchor="middle" fill="#222">Percentage of tensile and shear cracks</text>
<text x="367.8" y="277.3" font-size="14" fill="#222">(d)</text>
</svg>
</body></html>
